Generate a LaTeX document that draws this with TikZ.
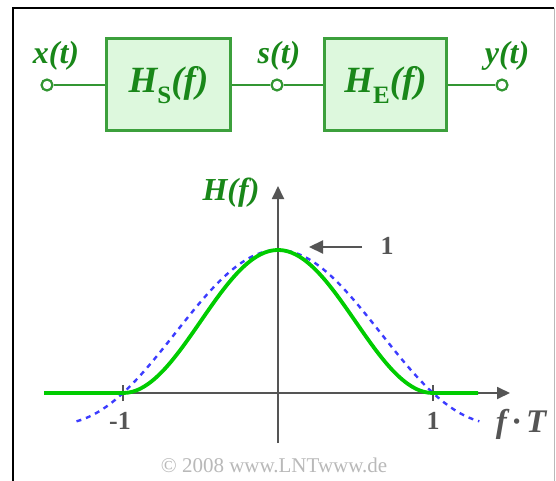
\documentclass[tikz,border=0pt]{standalone}
\usepackage{fontspec}
\setmainfont{Liberation Serif}
\usetikzlibrary{arrows.meta}
\definecolor{tgreen}{RGB}{25,135,25}
\definecolor{bgreen}{RGB}{60,160,60}
\definecolor{bfill}{RGB}{221,248,221}
\definecolor{lgreen}{RGB}{50,150,50}
\definecolor{cgreen}{RGB}{0,204,0}
\definecolor{cblue}{RGB}{60,60,255}
\definecolor{agray}{RGB}{85,85,85}
\definecolor{cgray}{RGB}{185,185,185}
\begin{document}
\begin{tikzpicture}[x=1pt,y=-1pt,
  port/.style={circle, draw=lgreen, fill=white, line width=2.2pt, minimum size=11pt, inner sep=0pt},
  blk/.style={draw=bgreen, fill=bfill, line width=3pt, minimum height=92pt, inner sep=0pt,
              text=tgreen, font=\fontsize{37}{37}\selectfont\bfseries\itshape},
  wire/.style={draw=lgreen, line width=2.2pt},
  sig/.style={text=tgreen, font=\fontsize{32}{32}\selectfont\bfseries\itshape, inner sep=0pt},
  axisline/.style={draw=agray, line width=1.8pt, -{Triangle[length=13pt,width=12pt]}},
  ticklbl/.style={text=agray, font=\fontsize{26}{26}\selectfont\bfseries, inner sep=0pt},
  tickmark/.style={draw=agray, line width=1.5pt}
]
\useasboundingbox (0,0) rectangle (556,481);
\fill[white] (0,0) rectangle (556,481);
% frame
\draw[black, line width=1.6pt] (13,481) -- (13,8) -- (554,8);
\draw[cgray, line width=1pt] (554,8) -- (554,481);

% block diagram
\node[port] (xin) at (47,85) {};
\node[port] (sn) at (277,85) {};
\node[port] (yn) at (502,85) {};
\node[blk, minimum width=124pt] (hs) at (168.5,85) {H\raisebox{-0.28em}{\fontsize{25}{25}\selectfont\upshape S}(f)};
\node[blk, minimum width=122pt] (he) at (385.5,85) {H\raisebox{-0.28em}{\fontsize{25}{25}\selectfont\upshape E}(f)};
\draw[wire] (xin) -- (hs);
\draw[wire] (hs) -- (sn);
\draw[wire] (sn) -- (he);
\draw[wire] (he) -- (yn);
\node[sig] (xlab) at (56,56) {x(t)};
\node[sig] (slab) at (279,56) {s(t)};
\node[sig] (ylab) at (507,56) {y(t)};

% axes
\coordinate (hx0) at (44,393);
\coordinate (hx1) at (510,393);
\coordinate (vy0) at (278,443);
\coordinate (vy1) at (278,186);
\draw[axisline] (hx0) -- (hx1);
\draw[axisline] (vy0) -- (vy1);
\coordinate (tm) at (123,393);
\coordinate (tp) at (433,393);
\draw[tickmark] ([yshift=-8pt]tm) -- ([yshift=8pt]tm);
\draw[tickmark] ([yshift=-8pt]tp) -- ([yshift=8pt]tp);

% curves
\draw[cblue, line width=2.4pt, dash pattern=on 5pt off 5pt]
  plot[domain=-1.3:1.3, samples=80, smooth] ({278+155*\x},{393-143*sin(180*\x)/(pi*\x)});
\draw[cgreen, line width=3.8pt]
  (44,393) -- (123,393)
  plot[domain=-1:1, samples=61, smooth] ({278+155*\x},{393-143*(cos(90*\x))^2})
  -- (478,393);

% labels
\node[sig] (hlab) at (231,193) {H(f)};
\node[text=agray, font=\fontsize{26}{26}\selectfont\bfseries, inner sep=0pt] (one) at (387,246) {1};
\coordinate (arrtail) at (362,247);
\coordinate (arrtip) at (309,247);
\draw[draw=agray, line width=2.2pt, -{Triangle[length=14pt,width=13pt]}] (arrtail) -- (arrtip);
\node[ticklbl] (lm) at (120,421) {-1};
\node[ticklbl] (lp) at (433,421) {1};
\node[text=agray, font=\fontsize{33}{33}\selectfont\bfseries\itshape, inner sep=0pt] (ft) at (521,424) {f\,·\,T};
\node[text=cgray, font=\fontsize{21}{21}\selectfont, inner sep=0pt] (copy) at (274,465) {© 2008 www.LNTwww.de};
\end{tikzpicture}
\end{document}
